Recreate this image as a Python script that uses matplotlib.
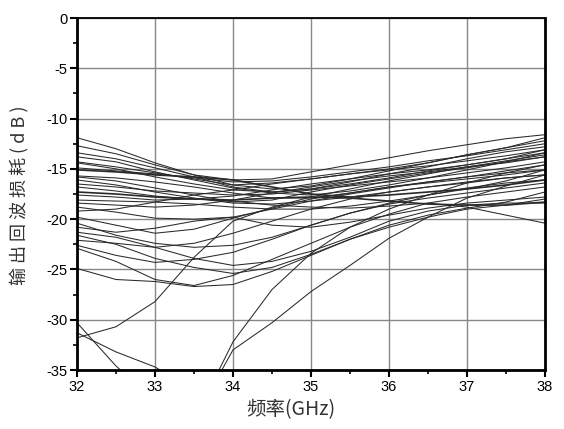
import numpy as np
import matplotlib.pyplot as plt
from matplotlib.ticker import MultipleLocator

# frequency points (GHz)
freq = [32, 32.5, 33, 33.5, 34, 34.5, 35, 35.5, 36, 36.5, 37, 37.5, 38]
nan = np.nan

# output return loss (dB) of each channel
c01 = [-11.9, -13.0, -14.4, -15.6, -16.6, -17.0, -16.7, -16.0, -15.2, -14.4, -13.6, -12.9, -12.2]
c02 = [-12.7, -13.5, -14.6, -15.6, -16.1, -16.0, -15.3, -14.6, -13.9, -13.2, -12.6, -12.0, -11.6]
c03 = [-13.4, -14.0, -14.9, -15.8, -16.8, -17.3, -17.0, -16.3, -15.5, -14.8, -14.0, -13.3, -12.8]
c04 = [-13.8, -14.3, -15.3, -16.1, -16.9, -17.4, -17.6, -17.2, -16.6, -15.9, -15.1, -14.3, -13.4]
c05 = [-14.3, -14.8, -15.4, -16.0, -16.6, -16.4, -16.0, -15.5, -15.0, -14.4, -13.6, -12.9, -11.9]
c06 = [-14.4, -15.0, -15.8, -16.5, -17.1, -17.3, -17.0, -16.5, -15.9, -15.2, -14.6, -14.0, -13.1]
c07 = [-14.9, -15.2, -15.5, -15.9, -16.3, -16.2, -15.8, -15.3, -14.8, -14.2, -13.7, -13.1, -12.5]
c08 = [-15.1, -15.3, -15.6, -15.8, -16.1, -16.8, -17.5, -17.8, -17.6, -17.3, -17.0, -16.6, -16.1]
c09 = [-15.7, -15.9, -16.3, -16.8, -17.4, -17.9, -17.9, -17.4, -16.8, -16.3, -15.8, -15.2, -14.6]
c10 = [-15.8, -16.2, -16.9, -17.6, -18.3, -18.1, -17.3, -16.6, -16.0, -15.4, -14.9, -14.3, -13.8]
c11 = [-16.1, -16.6, -17.3, -17.9, -18.4, -18.5, -18.2, -17.8, -17.3, -16.8, -16.4, -15.9, -15.6]
c12 = [-16.5, -16.8, -17.2, -17.4, -17.6, -17.5, -17.1, -16.7, -16.3, -15.9, -15.4, -14.9, -14.3]
c13 = [-16.8, -17.2, -17.7, -18.0, -18.2, -18.6, -18.8, -18.9, -18.7, -18.4, -18.8, -19.6, -20.4]
c14 = [-17.3, -17.5, -17.8, -18.0, -18.1, -17.9, -17.8, -17.9, -18.2, -18.5, -18.6, -18.6, -18.3]
c15 = [-17.6, -17.8, -18.1, -18.0, -17.7, -17.1, -16.5, -16.0, -15.5, -15.1, -14.6, -14.0, -13.4]
c16 = [-18.1, -18.2, -18.3, -18.5, -18.8, -19.0, -19.0, -18.7, -18.2, -17.6, -17.0, -16.2, -15.1]
c17 = [-18.4, -18.6, -18.8, -18.6, -18.1, -17.4, -16.8, -16.2, -15.7, -15.3, -14.8, -14.4, -13.8]
c18 = [-18.8, -19.3, -19.9, -20.0, -19.8, -19.0, -18.2, -17.5, -16.9, -16.3, -15.8, -15.4, -15.1]
c19 = [-19.2, -19.0, -18.3, -17.6, -17.1, -16.5, -16.0, -15.5, -15.1, -14.7, -14.2, -13.7, -13.1]
c20 = [-19.8, -20.6, -21.4, -21.0, -19.9, -18.9, -18.0, -17.4, -16.8, -16.4, -16.0, -15.6, -15.1]
c21 = [-20.4, -21.6, -22.4, -22.8, -22.6, -21.8, -20.6, -19.4, -18.4, -17.6, -16.9, -16.4, -16.1]
c22 = [-20.8, -21.3, -20.9, -20.2, -19.8, -20.6, -20.8, -20.3, -19.6, -18.9, -18.4, -18.1, -17.8]
c23 = [-21.3, -21.8, -22.8, -23.9, -24.6, -24.2, -23.2, -21.8, -20.2, -19.2, -18.6, -18.4, -18.4]
c24 = [-21.6, -22.5, -23.9, -24.8, -25.4, -24.8, -23.5, -22.0, -20.6, -19.6, -18.9, -18.3, -17.3]
c25 = [-22.1, -22.4, -22.8, -22.4, -21.4, -20.2, -19.0, -18.0, -17.3, -16.8, -16.3, -15.9, -15.6]
c26 = [-22.6, -23.6, -24.3, -24.0, -23.3, -22.0, -20.6, -19.4, -18.5, -17.9, -17.4, -16.9, -16.4]
c27 = [-22.9, -24.2, -26.0, -26.6, -25.6, -24.0, -22.4, -20.8, -19.5, -18.4, -17.8, -17.3, -16.8]
c28 = [-24.9, -26.0, -26.2, -26.7, -26.5, -25.2, -23.6, -22.0, -20.8, -19.8, -19.0, -18.6, -18.0]
c29 = [-31.8, -30.7, -28.2, -23.8, -20.2, -18.8, -17.8, -17.0, -16.2, -15.5, -14.8, -14.2, -13.6]
c30 = [-30.3, -34.6, -38.0, nan, nan, nan, nan, nan, nan, nan, nan, nan, nan]
c31 = [-31.3, -33.2, -34.7, -37.0, nan, nan, nan, nan, nan, nan, nan, nan, nan]
c32 = [nan, nan, nan, -40.0, -32.2, -27.0, -23.4, -20.8, -19.0, -17.6, -16.4, -15.4, -14.6]
c33 = [nan, nan, nan, -40.0, -33.0, -30.3, -27.2, -24.6, -21.9, -19.8, -17.9, -16.7, -15.6]

curves = [c01, c02, c03, c04, c05, c06, c07, c08, c09, c10, c11, c12, c13, c14, c15, c16,
          c17, c18, c19, c20, c21, c22, c23, c24, c25, c26, c27, c28, c29, c30, c31, c32, c33]
thick = [c08, c14]

plt.rcParams['font.family'] = ['Liberation Sans', 'Noto Sans CJK SC']
plt.rcParams['axes.unicode_minus'] = False

fig = plt.figure(figsize=(5.64, 4.29), dpi=100)
ax = fig.add_axes([0.1365, 0.1375, 0.8298, 0.8205])

for c in curves:
    lw = 1.2 if any(c is t for t in thick) else 0.75
    ax.plot(freq, c, color='#2a2a2a', lw=lw)

ax.set_xlim(32, 38)
ax.set_ylim(-35, 0)
ax.xaxis.set_major_locator(MultipleLocator(1))
ax.xaxis.set_minor_locator(MultipleLocator(0.5))
ax.yaxis.set_major_locator(MultipleLocator(5))
ax.yaxis.set_minor_locator(MultipleLocator(2.5))
ax.grid(True, which='major', color='#888888', lw=1.0)
ax.set_axisbelow(True)

ax.tick_params(which='major', direction='out', length=5, width=1.5, labelsize=10.5, pad=2)
ax.tick_params(which='minor', direction='out', length=3, width=1.2)
for side in ['left', 'bottom', 'right']:
    ax.spines[side].set_linewidth(2.0)
ax.spines['top'].set_linewidth(1.3)

fig.text(0.035, 0.545, '输 出 回 波 损 耗 ( d B )', rotation=90, ha='center', va='center',
         fontsize=13, family=['Noto Sans CJK SC'], color='#333333')
fig.text(0.515, 0.045, '频率(GHz)', ha='center', va='center',
         fontsize=14, family=['Noto Sans CJK SC'], color='#333333')

fig.savefig('out.png', dpi=100)
